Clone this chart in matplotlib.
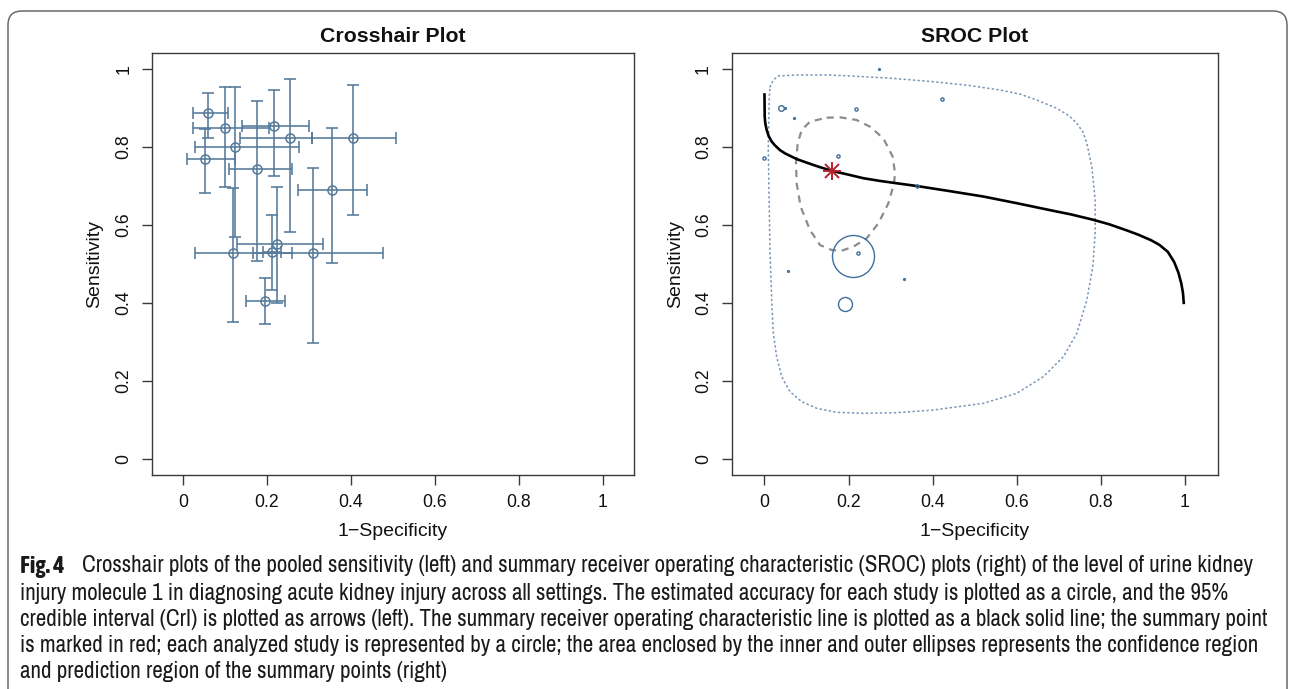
import matplotlib
matplotlib.use("Agg")
import matplotlib.pyplot as plt
from matplotlib import font_manager as fm
from matplotlib.patches import FancyBboxPatch
from matplotlib.transforms import IdentityTransform

# ---------------- data ----------------
# Crosshair plot: per-study 1-specificity / sensitivity with 95% CrI
ch_fpr    = [0.059, 0.100, 0.123, 0.052, 0.177, 0.216, 0.255, 0.404, 0.354, 0.119, 0.211, 0.223, 0.309, 0.194]
ch_fpr_lo = [0.024, 0.024, 0.028, 0.010, 0.109, 0.140, 0.135, 0.308, 0.274, 0.028, 0.191, 0.129, 0.166, 0.151]
ch_fpr_hi = [0.108, 0.204, 0.277, 0.123, 0.260, 0.300, 0.308, 0.506, 0.439, 0.260, 0.234, 0.334, 0.476, 0.242]
ch_sens    = [0.888, 0.848, 0.799, 0.769, 0.743, 0.854, 0.824, 0.824, 0.690, 0.527, 0.531, 0.552, 0.529, 0.406]
ch_sens_lo = [0.822, 0.698, 0.568, 0.681, 0.508, 0.726, 0.583, 0.626, 0.503, 0.352, 0.433, 0.401, 0.298, 0.346]
ch_sens_hi = [0.939, 0.953, 0.953, 0.846, 0.918, 0.946, 0.974, 0.959, 0.850, 0.696, 0.626, 0.698, 0.745, 0.465]

# SROC plot: observed study points and relative circle size (study weight)
st_fpr  = [0.273, 0.039, 0.050, 0.071, 0.217, 0.422, 0.000, 0.174, 0.363, 0.211, 0.222, 0.055, 0.333, 0.191]
st_sens = [0.999, 0.901, 0.899, 0.874, 0.898, 0.922, 0.771, 0.777, 0.700, 0.521, 0.527, 0.482, 0.461, 0.397]
st_weight = [0.5, 2.8, 0.6, 0.6, 1.6, 1.6, 1.6, 1.6, 1.6, 21.0, 1.6, 0.6, 0.6, 7.0]

# summary point
sum_fpr, sum_sens = 0.160, 0.739

# SROC curve
sroc_fpr  = [0.000, 0.0005, 0.002, 0.0052, 0.010, 0.0171, 0.025, 0.0369, 0.050, 0.0767, 0.095,
             0.1162, 0.130, 0.160, 0.200, 0.2352, 0.275, 0.3148, 0.3624, 0.440, 0.521, 0.600,
             0.680, 0.730, 0.780, 0.820, 0.860, 0.890, 0.920, 0.940, 0.960, 0.975, 0.985,
             0.992, 0.996, 0.998]
sroc_sens = [0.938, 0.878, 0.860, 0.844, 0.828, 0.814, 0.804, 0.792, 0.783, 0.769, 0.762,
             0.754, 0.749, 0.739, 0.729, 0.720, 0.713, 0.707, 0.700, 0.687, 0.673, 0.656,
             0.638, 0.627, 0.614, 0.602, 0.587, 0.575, 0.561, 0.549, 0.531, 0.505, 0.478,
             0.450, 0.425, 0.397]

# 95% confidence region (dashed)
conf_fpr  = [0.1480, 0.1798, 0.2195, 0.2512, 0.2829, 0.3052, 0.3107, 0.3083, 0.2948, 0.2710, 0.2433,
             0.2115, 0.1837, 0.1599, 0.1321, 0.1083, 0.0861, 0.0766, 0.0750, 0.0790, 0.0885, 0.1083, 0.1480]
conf_sens = [0.8752, 0.8761, 0.8692, 0.8521, 0.8222, 0.7752, 0.7325, 0.7068, 0.6556, 0.6043, 0.5658,
             0.5444, 0.5342, 0.5359, 0.5487, 0.5872, 0.6470, 0.7068, 0.7581, 0.8094, 0.8436, 0.8650, 0.8752]

# 95% prediction region (dotted)
pred_fpr  = [0.0131, 0.0210, 0.0329, 0.0767, 0.1560, 0.2036, 0.3000, 0.4019, 0.4850, 0.5607, 0.6100,
             0.6481, 0.6957, 0.7250, 0.7433, 0.7580, 0.7671, 0.7790, 0.7869, 0.7869, 0.7814, 0.7671,
             0.7433, 0.7114, 0.6638, 0.6005, 0.5210, 0.4019, 0.3148, 0.2352, 0.1719, 0.1243, 0.0886,
             0.0607, 0.0410, 0.0290, 0.0210, 0.0171, 0.0131, 0.0090, 0.0114, 0.0131]
pred_sens = [0.9546, 0.9718, 0.9821, 0.9846, 0.9846, 0.9821, 0.9765, 0.9674, 0.9580, 0.9462, 0.9350,
             0.9205, 0.8992, 0.8800, 0.8608, 0.8380, 0.8095, 0.7495, 0.6641, 0.5787, 0.4931, 0.4077,
             0.3223, 0.2623, 0.2110, 0.1685, 0.1428, 0.1256, 0.1187, 0.1172, 0.1197, 0.1300, 0.1469,
             0.1726, 0.2110, 0.2623, 0.3223, 0.4077, 0.5359, 0.7923, 0.9290, 0.9546]

ticks = [0, 0.2, 0.4, 0.6, 0.8, 1]
tick_labels = ["0", "0.2", "0.4", "0.6", "0.8", "1"]

caption_lines = [
    "Crosshair plots of the pooled sensitivity (left) and summary receiver operating characteristic (SROC) plots (right) of the level of urine kidney",
    "injury molecule 1 in diagnosing acute kidney injury across all settings. The estimated accuracy for each study is plotted as a circle, and the 95%",
    "credible interval (CrI) is plotted as arrows (left). The summary receiver operating characteristic line is plotted as a black solid line; the summary point",
    "is marked in red; each analyzed study is represented by a circle; the area enclosed by the inner and outer ellipses represents the confidence region",
    "and prediction region of the summary points (right)",
]

# ---------------- figure ----------------
W, H = 1290, 689
plt.rcParams['font.family'] = ['Liberation Sans', 'DejaVu Sans']
fig = plt.figure(figsize=(W / 100, H / 100), dpi=100)


def fx(px):
    return px / W


def fy(py):
    return 1 - py / H


AX_TOP, AX_BOT = 53.4, 474.6
YLIM = (-0.04, 1.04)
SPINE = "#3a3a3a"
CH_COL = "#55799a"
ST_COL = "#3f6f9d"


def make_axes(left_px, right_px, xlim):
    ax = fig.add_axes([fx(left_px), fy(AX_BOT), (right_px - left_px) / W, (AX_BOT - AX_TOP) / H])
    ax.set_xlim(*xlim)
    ax.set_ylim(*YLIM)
    for s in ax.spines.values():
        s.set_color(SPINE)
        s.set_linewidth(1.0)
    ax.set_xticks(ticks)
    ax.set_xticklabels(tick_labels)
    ax.set_yticks(ticks)
    ax.set_yticklabels(tick_labels, rotation=90, va="center")
    ax.tick_params(direction="out", length=7.2, width=1.0, color=SPINE,
                   labelsize=12.7, labelcolor="#111111", pad=7)
    return ax


# ---- Crosshair plot ----
ax1 = make_axes(152, 634, (-0.074, 1.074))
for i in range(len(ch_fpr)):
    ax1.errorbar(ch_fpr[i], ch_sens[i],
                 xerr=[[ch_fpr[i] - ch_fpr_lo[i]], [ch_fpr_hi[i] - ch_fpr[i]]],
                 yerr=[[ch_sens[i] - ch_sens_lo[i]], [ch_sens_hi[i] - ch_sens[i]]],
                 fmt="none", ecolor=CH_COL, elinewidth=1.15, capsize=4.2, capthick=1.15,
                 zorder=2)
ax1.plot(ch_fpr, ch_sens, linestyle="none", marker="o", markersize=6.5,
         markerfacecolor="none", markeredgecolor=CH_COL, markeredgewidth=1.1, zorder=3)

# ---- SROC plot ----
ax2 = make_axes(731.7, 1218.3, (-0.078, 1.080))
ax2.plot(pred_fpr, pred_sens, linestyle=(0, (0.6, 2.2)), color="#7d98b8", linewidth=1.2,
         dash_capstyle="round", zorder=1)
ax2.plot(conf_fpr, conf_sens, linestyle=(0, (3.2, 2.6)), color="#8c8c8c", linewidth=1.6, zorder=2)
ax2.plot(sroc_fpr, sroc_sens, color="black", linewidth=1.9, solid_capstyle="butt",
         solid_joinstyle="round", zorder=3)
for x, y, w in zip(st_fpr, st_sens, st_weight):
    ax2.plot(x, y, linestyle="none", marker="o", markersize=max(w * 2 * 0.72, 1.3),
             markerfacecolor="none", markeredgecolor=ST_COL, markeredgewidth=1.0, zorder=4)
ax2.plot(sum_fpr, sum_sens, linestyle="none", marker="+", markersize=13.5,
         markeredgecolor="#b3232b", markeredgewidth=1.4, zorder=5)
ax2.plot(sum_fpr, sum_sens, linestyle="none", marker="x", markersize=10,
         markeredgecolor="#b3232b", markeredgewidth=1.4, zorder=5)

# ---- titles and labels ----
for cx, title in [(393, "Crosshair Plot"), (975, "SROC Plot")]:
    fig.text(fx(cx), fy(36), title, ha="center", va="center", fontsize=15.3,
             fontweight="bold", color="#111111")
    fig.text(fx(cx), fy(532), "1\u2212Specificity", ha="center", va="center",
             fontsize=14, color="#111111")
for cx in (95, 676):
    fig.text(fx(cx), fy(264), "Sensitivity", ha="center", va="center", rotation=90,
             fontsize=14, color="#111111")

# ---- outer frame ----
frame = FancyBboxPatch((8, -40), 1279, H - 11 + 40,
                       boxstyle="round,pad=0,rounding_size=14",
                       transform=IdentityTransform(), facecolor="none",
                       edgecolor="#6a6a6a", linewidth=1.1, zorder=0)
fig.patches.append(frame)


# ---- caption font: a condensed regular/light face if one is installed ----
def wnum(w):
    if isinstance(w, (int, float)):
        return float(w)
    table = {"ultralight": 200, "light": 300, "normal": 400, "regular": 400, "book": 400,
             "medium": 500, "semibold": 600, "demibold": 600, "bold": 700, "heavy": 800,
             "black": 900, "extra bold": 800}
    return float(table.get(str(w).lower(), 400))


def shared_words(a, b):
    n = 0
    for p, q in zip(a.split(), b.split()):
        if p != q:
            break
        n += 1
    return n


cands = [f for f in fm.fontManager.ttflist
         if ("Narrow" in f.name or "Condensed" in f.name) and f.style == "normal"]
cap_family, cap_weight = "Liberation Sans", 400
bold_family, bold_weight = "Liberation Sans", 700
if cands:
    best = min(cands, key=lambda f: (abs(wnum(f.weight) - 380), f.name))
    cap_family, cap_weight = best.name, wnum(best.weight)
    heavy = [f for f in cands if wnum(f.weight) >= 600]
    if heavy:
        hb = max(heavy, key=lambda f: (shared_words(f.name, cap_family), -abs(wnum(f.weight) - 700)))
        bold_family, bold_weight = hb.name, wnum(hb.weight)
    else:
        bold_family, bold_weight = cap_family, 700

line_y = [566, 593, 619, 645, 672]
fig_label = fig.text(fx(20), fy(line_y[0]), "Fig. 4", ha="left", va="center", fontsize=15,
                     fontweight=bold_weight, family=[bold_family, "DejaVu Sans"], color="#1a1a1a")
cap_texts = []
for i, (yy, line) in enumerate(zip(line_y, caption_lines)):
    x0 = 82 if i == 0 else 20
    t = fig.text(fx(x0), fy(yy), line, ha="left", va="center", fontsize=14,
                 fontweight=cap_weight, family=[cap_family, "DejaVu Sans"], color="#1a1a1a")
    cap_texts.append(t)

# fit caption size to the reference line width
renderer = fig.canvas.get_renderer()
w0 = cap_texts[0].get_window_extent(renderer).width
target = 1262 - 82
size = min(14 * target / w0, 16.6)
for t in cap_texts:
    t.set_fontsize(size)
fig_label.set_fontsize(size * 1.04)

fig.savefig("out.png", dpi=100)
